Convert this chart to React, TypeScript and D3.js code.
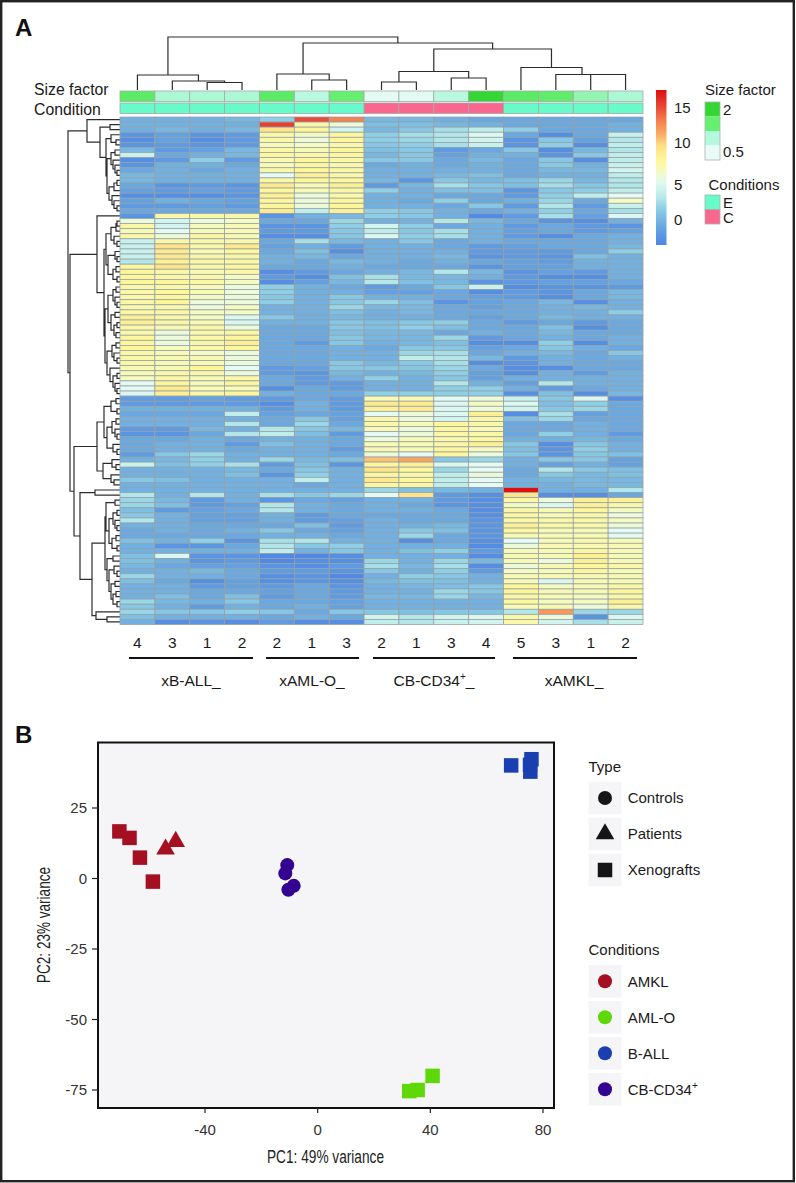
import React from "react";
import * as d3 from "d3";

const columnLabels = ["4","3","1","2","2","1","3","2","1","3","4","5","3","1","2"];
const groups = [
  { label: "xB-ALL_", sup: "", from: 129, to: 253, center: 191 },
  { label: "xAML-O_", sup: "", from: 266, to: 359, center: 312 },
  { label: "CB-CD34", sup: "+", from: 373, to: 495, center: 434 },
  { label: "xAMKL_", sup: "", from: 513, to: 637, center: 574 },
];
const sizeFactors = [1.6,1.05,1.05,1.05,1.6,0.95,1.5,0.55,0.55,0.95,2,1.6,1.55,1.2,1.05];
const conditions = ["E","E","E","E","E","E","E","C","C","C","C","E","E","E","E"];

const heat: number[][] = [
[-.5,-.5,-.5,0,1.5,15,13,0,0,-.5,-1,-1,-1,-1,-1],
[-.5,-.5,-.5,-.5,15.5,7.5,6,.5,.5,0,-.5,-1,-1,-1,-.5],
[-.5,0,-.5,0,9.5,8,4.5,0,1,2.5,3.5,1.5,-1,-1,-.5],
[-2.5,-1.5,-2.5,-2,7.5,6.5,8,1.5,2.5,3,5,-1,-3,-1,4],
[-3,-1.5,-3,-2,7.5,6,8,1.5,2,3,4.5,-2.5,1,-1.5,3],
[-2.5,-2,-2.5,-2,7,6.5,7.5,1,1.5,2.5,4,-2.5,1.5,-3,3.5],
[0,-2,-1.5,0,7.5,7,8,.5,1,-2,-1,1,-3,0,3],
[4,-1,-.5,0,8,7.5,8,0,1,-1.5,-.5,-.5,-2.5,1,3.5],
[-3,-2,1.5,-2,7,8,7.5,1,1,-1,0,-1,1,-3,3.5],
[-2.5,-.5,-.5,-1,7,8,7.5,-1,-.5,-1,-.5,-1,1,-.5,4],
[-1,-.5,-1,-.5,7.5,8,7.5,-.5,-.5,-.5,-.5,-1,0,0,4.5],
[0,-.5,-.5,-.5,5.5,8.5,7.5,-.5,-.5,0,.5,-1,-.5,-.5,3.5],
[0,-.5,-.5,-.5,7.5,8,8,0,-2.5,1,0,.5,2,0,3],
[-1,-2.5,-2,-2.5,9,7,8.5,-2,0,2.5,1,.5,2.5,1,3],
[-1.5,-2,-1.5,-2,8,7,7.5,1.5,-.5,.5,.5,-2.5,1,1.5,3.5],
[-3,-3,-3,-2.5,8.5,6,7.5,-.5,-.5,-1,-1,-2,1.5,3.5,5.5],
[-1.5,-.5,-1,-1.5,8,6,8,-.5,-1,1.5,-1,-.5,2,-1,6.5],
[-2,-2,-1.5,-2,8,6,8,-.5,-.5,-1,1,-2,3,-2,4],
[-1,-1,-1,-1,9,3.5,8.5,1.5,1,-.5,-1,-.5,1.5,-1,2.5],
[-2.5,7.5,7.5,7.5,-2.5,-.5,0,1.5,1,-.5,-3.2,-2,2.5,-1.5,5],
[6,4.5,6,6.5,-1,-1,2,-.5,-.5,3,0,-1,-2.5,-3,-.5],
[7.5,4.5,6.5,7,-2.5,-2.5,1.5,4.5,1.5,-1,-.5,-2,-1,-2,-2.5],
[7,5.5,7,7,-2,-2,1,3.5,1,2.5,-.5,-1.5,-1,-2,-1.5],
[7.5,6,7.5,7,-3,-3,1,5,1.5,2.5,-.5,-2,-3,-1,-.5],
[4,7.5,7.5,7.5,-1,2.5,0,-.5,1,-1,-.5,-1,-1,-1,-.5],
[4,9.5,7.5,9,-1.5,-.5,-2,-.5,-.5,-1,-2,-1.5,-1,-1,0],
[4,9,7,8,-1,.5,-3,-.5,-.5,-.5,-2,-2,-2,-1,1.5],
[4,9,7.5,7.5,-.5,0,-1,-.5,-.5,0,-2.5,-2,-2.5,.5,-.5],
[3,8.5,7.5,7.5,-.5,-1,0,-.5,-1,-.5,-1,-1.5,-2,-.5,-.5],
[8,9.5,7.5,8,-1,-1,-.5,-1,-1,-1,-2.5,-1.5,-1.5,-.5,-.5],
[8,7.5,7,7.5,-3,-2,-1,-.5,0,3,0,-2.5,-1.5,-2,-.5],
[8,7.5,7.5,6.5,-2,-3,.5,2.5,0,0,-.5,-2,-3,-3,-.5],
[8,8,7.5,6.5,-3,-1.5,0,3,.5,0,-2.5,-2,-1.5,-1.5,-1],
[7.5,7.5,7,6,1.5,-.5,-1,-2,-1,1,4,-3,-2.5,-2.5,-2],
[7.5,8,7,6,1.5,-.5,-.5,-1.5,-1.5,-1,-3,-2,-2.5,-1,0],
[7.5,8,6.5,6,1,-.5,1,-.5,-.5,-1,-1.5,-2,-3,-1,0],
[7.5,8,6,6,1.5,-.5,1,2,.5,-2.5,-1.5,-1,0,-3,-.5],
[7.5,7.5,6,6.5,-.5,-.5,2,0,0,-1,-1.5,-1,-.5,0,-.5],
[7.5,7.5,6.5,6.5,-.5,-.5,.5,-.5,0,-1,-1,-1,-.5,-.5,1.5],
[8.5,7.5,6.5,5,1,-.5,0,-.5,-.5,-1,-1.5,-1,0,-.5,-.5],
[8.5,7.5,7,5,-.5,-.5,1,.5,1,1.5,-1,-2,-1,-2,-1],
[7.5,7,7.5,6,-1,-1,1,.5,1.5,.5,-1,-1,.5,-3,-1],
[7.5,6,7.5,8,-1,-1,.5,0,0,-1,-.5,-1,0,-1,-1],
[8,6,7.5,8,-1,-1,1,0,0,2,-2,-1,-.5,-1,-.5],
[8,6,7.5,8.5,-1,-2,1,-.5,0,.5,-3,-3,1.5,-3,-.5],
[8,6.5,7.5,8,-1,-1,-.5,-1,1,1,-1.5,-1,1,-.5,-1],
[7.5,7,6.5,6,-1,-1,-.5,-.5,2,2.5,-1,-.5,0,-1,1],
[7.5,7,7,6,-1,-1,-.5,-.5,3.5,3,0,-2,-.5,-1,-.5],
[7.5,7,7,6,-1,-1,1,0,1,2.5,-3,-2.5,-.5,-1,-1],
[7,7,8,5.5,-2,-1.5,1,1,1,2,-1,-3,-3,-1,-1],
[7,7.5,7.5,6,-2,-2.5,0,-.5,0,1.5,-1.5,-3,-.5,-2,-.5],
[6.5,7.5,7,7.5,-1,-2,-.5,1.5,-.5,1,-1.5,-.5,-.5,-.5,-.5],
[5.5,8,7,8,-1,-2,-2,-.5,-.5,3,-.5,-1.5,3,-.5,-.5],
[5.5,9,7,7,-3,-1,-2,-.5,-.5,1.5,1.5,-.5,-2,-1,-.5],
[5,8.5,7.5,8,-.5,-1,-1,1.5,1.5,1.5,1.5,-3,.5,-3,0],
[-2,-2,-1.5,-2,-2,-1,-2,7,7,5.5,6,4,1,5,-3],
[-2,-2,-2,-2,-3,-.5,-2,9,9,5,6.5,5,.5,1.5,-1],
[-.5,-.5,-.5,-.5,-2,-.5,-2,8.5,9,5,6,4.5,1,2,-1],
[-1,-1,-1,3.5,-1.5,-1,-1.5,5.5,6,5,8.5,-3,2.5,-1.5,-1],
[-.5,-.5,-.5,-.5,-1,1,-1.5,7.5,6,4.5,7.5,.5,2,-1,-1],
[-.5,-.5,-.5,3,-1,2,-1,7.5,7,8,7.5,-1,-1,-.5,-1],
[-2,-2,0,-.5,3,1,0,7,6,8,7,-1,-1,-.5,-1],
[-2.5,-2.5,-1,3,3.5,.5,-2,5.5,6,7.5,7.5,-1,1.5,-.5,-2],
[-1,-1,-.5,-1,-.5,-.5,-1,6,7,7.5,8,-.5,-.5,0,-1],
[-1,-.5,-.5,-2,.5,-.5,-1,7,7,7.5,8.5,1,-3,1,-.5],
[-1,-.5,-.5,-1,-.5,-.5,-2,7,7,8,6.5,.5,-2.5,1.5,-.5],
[-2,1,2,-.5,-.5,-.5,-1,6,5.5,8,6,1,-2.5,1,.5],
[-.5,0,1.5,-.5,2,0,.5,10.5,11.5,1,2,-.5,1,1,-1.5],
[4,.5,1.5,2.5,-2,.5,-2.5,8,8.5,5,5.5,-.5,-1.5,-.5,-1.5],
[-.5,-.5,-.5,0,-1,1,-.5,9.5,8,2,5.5,-1,3,1,.5],
[-.5,-.5,-.5,.5,-2.5,1.5,-.5,8,7.5,3.5,6,-1,1,0,.5],
[1,.5,-.5,-.5,-.5,3.5,-.5,9,8,3.5,5.5,-.5,0,0,0],
[-.5,-.5,-.5,-.5,-.5,-1,-.5,8,8,3.5,5.5,-.5,-.5,0,0],
[-.5,-.5,-.5,-.5,-.5,-.5,-.5,2,.5,0,-.5,17.5,-.5,-.5,3],
[3,-.5,3,-.5,2.5,1,2,5.5,9.5,-2,-3,9.5,-3,-3,-1],
[2,0,-2,-.5,-2.5,-1,-1.5,-.5,-.5,-2,-3,7.5,6,8.5,8.5],
[2,.5,-2,-1.5,3,-.5,-1,-.5,-1,-2.5,-3,6.5,5,8.5,7.5],
[.5,-2,-1.5,-1,3,-.5,-1,-.5,-.5,-1,-3,7.5,7,8,6.5],
[1,-.5,-1.5,-1.5,-.5,-2,-1,-1,-1,-1,-3,8,7,7.5,6],
[3,-.5,-1.5,-1.5,-.5,-2,-1.5,-.5,-1,-1,-2.5,7.5,7.5,7.5,6.5],
[-.5,-.5,-1,-1,-1,.5,-2,-.5,-.5,0,-2.5,8.5,7.5,7.5,6],
[-1,-.5,-1,-.5,1,-1,-1.5,-.5,1,.5,-2.5,8,7,7,5.5],
[-1,-1,-1,-1,-.5,-.5,-1,-.5,2,-1,-2.5,7,7,7,5.5],
[.5,-.5,1.5,-2.5,2.5,3,-.5,-.5,-3,-1,-3,5.5,7,7.5,7],
[-.5,-2.5,-2.5,-1,3,1,1.5,-.5,-.5,-.5,-3.2,6,7,7,7],
[-.5,-.5,-.5,-.5,3.5,-.5,1,-.5,.5,1.5,-2,7,7,8,7],
[.5,5,-2.5,-2.5,-3.5,-3.5,-3,-.5,-.5,-.5,-3.2,7,7,8.5,7],
[.5,-.5,-2.5,-2,-3.5,-3,-3,2,-.5,2,0,7,6,8.5,7],
[0,-1,-1.5,-1.5,-2.5,-3,-2,2.5,0,2.5,-3,6,7,8,7.5],
[-.5,-.5,0,-1,-2,-2,-2.5,1,-.5,1.5,-2,6.5,7,8,7],
[2,-.5,-.5,-1,-3,-2.5,-3.5,-.5,1.5,1,-.5,7,7,7,7],
[.5,-1,-3,-1.5,-3,-2.5,-3,0,.5,.5,-.5,7,5,7,7],
[-.5,-.5,-2,-1.5,-2,-1,-2.5,-.5,0,.5,1,8,6.5,7,7.5],
[-.5,-.5,-1,-1,-1.5,-1,-2,-.5,-.5,2,1,8,7,7,8],
[-.5,.5,-1,.5,-2,-1,-2,0,0,2,0,7.5,7,6.5,7.5],
[2,0,-.5,1,-1,-1,-1.5,-.5,-.5,-.5,-.5,8,6.5,6.5,8.5],
[1,-.5,-2,-.5,-1,-.5,-1.5,-.5,-.5,-.5,-.5,7,7,6,7.5],
[2,1,1,1.5,1,-1,1,1,.5,1,1,3,12,2,2],
[.5,-.5,-.5,-.5,-1,-.5,-1,4.5,3,4.5,5,7.5,6,-2.5,5],
[-.5,-3,-2.5,-3,-2,-3,-3,3.5,3,4,4.5,7.5,4.5,2.5,4],
];

type Tree = 0 | [number, Tree, Tree];
const columnTree: Tree = [53,
  [15,0,[9,0,[7.5,0,0]]],
  [47,[16,0,[10,0,0]],
    [41,[18.5,[8,0,0],[12,0,0]],[22.5,0,[15.5,0,[15.5,0,0]]]]]];

const rowTreeTop: Tree = [33,0,[20,[10,0,0],[14,[9,0,[4,0,0]],
  [13,[9,[5,0,0],[7,0,[5,0,[3,0,0]]]],[11,[6,[3,0,0],0],[8,0,[6,0,[3,0,0]]]]]]]];
const rowTreeBAll: Tree = [23,0,[16,
  [14,[9,[4,[3,0,0],0],[6,0,[3,0,0]]],[12,[5,0,[3,0,0]],[7,[4,0,0],[3,0,0]]]],
  [15,
    [12,[7,[4,0,0],[5,0,[3,0,0]]],[9,[5,0,0],[6,[3,0,0],[4,0,0]]]],
    [13,[8,[4,0,0],[6,0,[3,0,0]]],[10,0,[7,[3,0,0],[5,0,[3,0,0]]]]]]]];
const rowTreeCb: Tree = [23,
  [16,[9,[4,0,0],[3,0,0]],[13,[8,[4,0,0],[5,0,[3,0,0]]],[7,0,[3,0,0]]]],
  [17,[8,0,[4,0,0]],[9,0,[6,0,0]]]];
const rowTreeAmkl: Tree = [40,[25,0,0],[28,
  [15,
    [14,[5,0,0],[11,[7,[3,0,0],[5,0,[3,0,0]]],[8,[4,0,0],[3,0,0]]]],
    [13,[7,0,0],[11,[6,0,[3,0,0]],[9,[5,0,0],[7,[4,0,0],[3,0,0]]]]]],
  [24,0,[13,0,0]]]];
const rowTree: Tree = [52,rowTreeTop,[50,rowTreeBAll,[46,rowTreeCb,rowTreeAmkl]]];

const rampValues = [-4.2,-1.2,1.5,3.5,5.5,6.5,8,9.5,11,13,15,17.5];
const rampColors = ["#4a80e6","#66a5e0","#8ccfe6","#bfeeea","#e4faf2","#f5fac0","#fdf69a","#fde488","#fbb068","#f4824f","#ea4a38","#dd0f10"];
const colorTicks = [0,5,10,15];
const colorTickY = [219,184.6,142.6,107.6];
const sizeBins = ["#33d633","#66f070","#b3f9dd","#e8fbf6"];
const sizeDomain = [2,1.5,1,0.5];
const conditionColors: Record<string,string> = { E: "#66fbc8", C: "#f9678f" };

const pcaX = [-40,0,40,80];
const pcaY = [25,0,-25,-50,-75];
const amklXeno = [[-70.4,16.7],[-66.8,14.4],[-63.1,7.4],[-58.5,-1.1]];
const amklPatients = [[-54,10.4],[-50.4,13.1]];
const cbControls = [[-10.8,4.75],[-11.5,1.8],[-8.5,-2.6],[-10.4,-4]];
const ballXeno = [[68.7,40.1],[75.4,40.3],[75.9,42.3],[75.5,37.9]];
const amloXeno = [[40.8,-70],[35.5,-75],[32.5,-75.4]];
const typeLegend = ["Controls","Patients","Xenografts"];
const condLegend = ["AMKL","AML-O","B-ALL","CB-CD34"];
const condColors = ["#a50f22","#5fd80a","#1a3fb0","#32048f"];

const FONT = "'Liberation Sans', Arial, sans-serif";

function dendroPath(tree: Tree, leafPos: (i:number)=>number, heightPos:(h:number)=>number, horizontal:boolean) {
  const root = d3.hierarchy<any>(tree, (n) => (n === 0 ? null : [n[1], n[2]]));
  const p = d3.path();
  let i = 0;
  const pos = new Map<any, number>();
  root.eachAfter((n) => {
    if (!n.children) { pos.set(n, leafPos(i++)); return; }
    const [a, b] = n.children;
    const pa = pos.get(a)!, pb = pos.get(b)!;
    pos.set(n, (pa + pb) / 2);
    const h = heightPos(n.data[0]);
    const ha = a.children ? heightPos(a.data[0]) : heightPos(0);
    const hb = b.children ? heightPos(b.data[0]) : heightPos(0);
    if (horizontal) {
      p.moveTo(pa, ha); p.lineTo(pa, h); p.lineTo(pb, h); p.lineTo(pb, hb);
    } else {
      p.moveTo(ha, pa); p.lineTo(h, pa); p.lineTo(h, pb); p.lineTo(hb, pb);
    }
  });
  return p.toString();
}

export default function App() {
  const colX = d3.scaleBand<number>().domain(d3.range(15)).range([120, 643]);
  const rowY = d3.scaleBand<number>().domain(d3.range(heat.length)).range([117, 624.5]);
  const color = d3.scaleLinear<string>().domain(rampValues).range(rampColors).clamp(true);
  const sizeColor = d3.scaleLinear<string>().domain([0.5,1,1.5,2]).range([...sizeBins].reverse());
  const barY = d3.scaleLinear().domain([0,5,10,15]).range(colorTickY);
  const barTop = 90, barBottom = 245;
  const x = d3.scaleLinear().domain([-40,80]).range([205,543]);
  const y = d3.scaleLinear().domain([25,-75]).range([808,1090]);
  const sq = d3.symbol().type(d3.symbolSquare).size(14.5*14.5)() as string;
  const ci = d3.symbol().type(d3.symbolCircle).size(Math.PI*49)() as string;
  const tr = d3.symbol().type(d3.symbolTriangle).size(150)() as string;
  const colTop = dendroPath(columnTree, (i)=>colX(i)!+colX.bandwidth()/2, d3.scaleLinear().domain([0,53]).range([90,37]), true);
  const rowLeft = dendroPath(rowTree, (i)=>rowY(i)!+rowY.bandwidth()/2, d3.scaleLinear().domain([0,52]).range([120,68]), false);
  const stops = d3.range(0,21).map((k)=>{
    const yy = barBottom + (barTop-barBottom)*k/20;
    return { off: k/20, c: color(barY.invert(yy)) };
  });
  const points: [number[][], string, string][] = [
    [amklXeno, sq, condColors[0]], [amklPatients, tr, condColors[0]],
    [cbControls, ci, condColors[3]], [ballXeno, sq, condColors[2]], [amloXeno, sq, condColors[1]],
  ];
  return (
    <svg width={796} height={1183} style={{ position:"absolute", left:0, top:0, display:"block", background:"#fff" }} fontFamily={FONT} fill="#1a1a1a">
      <defs>
        <linearGradient id="bar" x1="0" y1="1" x2="0" y2="0">
          {stops.map((s,i)=><stop key={i} offset={s.off} stopColor={s.c} />)}
        </linearGradient>
      </defs>
      <rect x={1.2} y={1.2} width={792.6} height={1180} fill="none" stroke="#222" strokeWidth={2.4} />
      <text x={15} y={36} fontSize={24} fontWeight="bold" fill="#111">A</text>
      <text x={15} y={743} fontSize={24} fontWeight="bold" fill="#111">B</text>

      <text x={34} y={94.5} fontSize={15.8}>Size factor</text>
      <text x={34} y={114.5} fontSize={15.8}>Condition</text>

      <path d={colTop} fill="none" stroke="#2c2c2c" strokeWidth={1.2} />
      <path d={rowLeft} fill="none" stroke="#2c2c2c" strokeWidth={1.2} />

      {sizeFactors.map((v,i)=><rect key={i} x={colX(i)} y={91} width={colX.bandwidth()} height={10.5} fill={sizeColor(v)} stroke="#a3aaa8" strokeWidth={0.8} />)}
      {conditions.map((v,i)=><rect key={i} x={colX(i)} y={103} width={colX.bandwidth()} height={10.5} fill={conditionColors[v]} stroke="#a3aaa8" strokeWidth={0.8} />)}

      {heat.map((row,r)=>row.map((v,c)=>(
        <rect key={r+"-"+c} x={colX(c)} y={rowY(r)} width={colX.bandwidth()} height={rowY.bandwidth()} fill={color(v)} stroke="#95a0a5" strokeWidth={0.75} />
      )))}

      {columnLabels.map((t,i)=><text key={i} x={colX(i)!+colX.bandwidth()/2} y={648} fontSize={15.5} textAnchor="middle">{t}</text>)}
      {groups.map((g)=>(
        <g key={g.label}>
          <line x1={g.from} x2={g.to} y1={658} y2={658} stroke="#111" strokeWidth={2} />
          <text x={g.center} y={686} fontSize={15.5} textAnchor="middle">
            {g.label}{g.sup && <tspan dy={-6} fontSize={10}>{g.sup}</tspan>}{g.sup && <tspan dy={6}>_</tspan>}
          </text>
        </g>
      ))}

      <rect x={656} y={barTop} width={10.5} height={barBottom-barTop} fill="url(#bar)" />
      {colorTicks.map((t)=><text key={t} x={674} y={barY(t)+5.5} fontSize={15}>{t}</text>)}

      <text x={705} y={94.5} fontSize={15}>Size factor</text>
      {sizeBins.map((c,i)=><rect key={c} x={705} y={102+i*14.5} width={15} height={14.5} fill={c} />)}
      <rect x={705} y={102} width={15} height={58} fill="none" stroke="#a8b4b0" strokeWidth={0.8} />
      <text x={723} y={115} fontSize={15}>{sizeDomain[0]}</text>
      <text x={723} y={157} fontSize={15}>{sizeDomain[3]}</text>
      <text x={708.5} y={190} fontSize={15}>Conditions</text>
      {["E","C"].map((k,i)=>(
        <g key={k}>
          <rect x={705} y={195+i*14.5} width={15} height={14.5} fill={conditionColors[k]} stroke="#a8b4b0" strokeWidth={0.8} />
          <text x={723} y={207.5+i*15.5} fontSize={15}>{k}</text>
        </g>
      ))}

      <rect x={98} y={742.5} width={456} height={365.5} fill="#f5f5f8" stroke="#111" strokeWidth={2} />
      {pcaX.map((t)=>(
        <g key={t}>
          <line x1={x(t)} x2={x(t)} y1={1108} y2={1113} stroke="#222" strokeWidth={1.2} />
          <text x={x(t)} y={1135} fontSize={15} textAnchor="middle" fill="#333">{t}</text>
        </g>
      ))}
      {pcaY.map((t)=>(
        <g key={t}>
          <line x1={92} x2={98} y1={y(t)} y2={y(t)} stroke="#222" strokeWidth={1.2} />
          <text x={87} y={y(t)+5.2} fontSize={15} textAnchor="end" fill="#333">{t}</text>
        </g>
      ))}
      <text x={267} y={1163} fontSize={17.5} textLength={117} lengthAdjust="spacingAndGlyphs" fill="#222">PC1: 49% variance</text>
      <text transform="translate(50,983) rotate(-90)" fontSize={17.5} textLength={116} lengthAdjust="spacingAndGlyphs" fill="#222">PC2: 23% variance</text>

      {points.map(([pts,sym,col],k)=>pts.map((p,i)=>(
        <path key={k+"-"+i} d={sym} transform={`translate(${x(p[0])},${y(p[1])})`} fill={col} />
      )))}

      <text x={588.5} y={771.5} fontSize={15}>Type</text>
      {typeLegend.map((t,i)=>(
        <g key={t}>
          <rect x={588.5} y={781.7+i*36} width={33} height={32.6} fill="#f5f5f8" />
          <path d={[ci,tr,sq][i]} transform={`translate(605,${798+i*36})`} fill="#151515" />
          <text x={627.7} y={803.3+i*36} fontSize={15}>{t}</text>
        </g>
      ))}
      <text x={588.5} y={955} fontSize={15}>Conditions</text>
      {condLegend.map((t,i)=>(
        <g key={t}>
          <rect x={588.5} y={965+i*36} width={33} height={32.6} fill="#f5f5f8" />
          <path d={ci} transform={`translate(605,${981.3+i*36})`} fill={condColors[i]} />
          <text x={627.7} y={986.7+i*36} fontSize={15}>{t}{i===3 && <tspan dy={-6} fontSize={10}>+</tspan>}</text>
        </g>
      ))}
    </svg>
  );
}
